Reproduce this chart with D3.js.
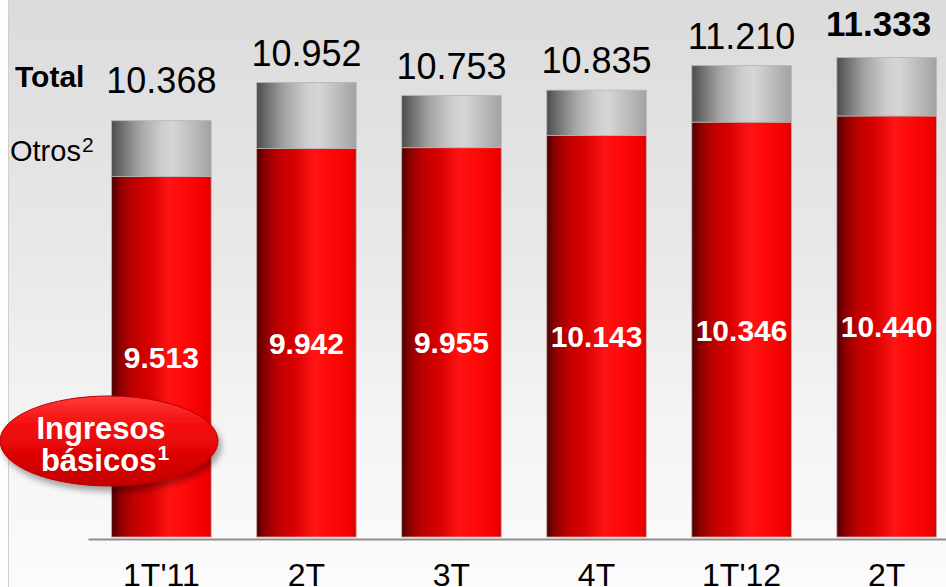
<!DOCTYPE html>
<html>
<head>
<meta charset="utf-8">
<script src="https://cdn.jsdelivr.net/npm/d3@7"></script>
<style>
  html, body { margin: 0; padding: 0; background: #ffffff; }
  svg { display: block; font-family: "Liberation Sans", Arial, sans-serif; }
</style>
</head>
<body>
<svg id="chart" width="946" height="587"></svg>
<script>
// Quarterly revenue: core income (red) plus other income (grey) stacked to the total
const quarters = ["1T'11", "2T", "3T", "4T", "1T'12", "2T "];
const coreIncome = [9513, 9942, 9955, 10143, 10346, 10440];
const totalIncome = [10368, 10952, 10753, 10835, 11210, 11333];
const otherIncome = totalIncome.map((t, i) => t - coreIncome[i]);
const yTicks = [4000, 12000];

const fmt = v => d3.format(",")(v).replace(/,/g, ".");

const W = 946, H = 587;
const svg = d3.select("#chart");
const defs = svg.append("defs");

// panel background: light grey fading to almost white
const bg = defs.append("linearGradient").attr("id", "bg")
  .attr("x1", 0).attr("y1", 0).attr("x2", 0).attr("y2", 1);
bg.append("stop").attr("offset", "0%").attr("stop-color", "#dbdbdb");
bg.append("stop").attr("offset", "45%").attr("stop-color", "#e9e9e9");
bg.append("stop").attr("offset", "75%").attr("stop-color", "#f5f5f5");
bg.append("stop").attr("offset", "100%").attr("stop-color", "#fbfbfb");

// cylinder-like shading for the red segments
const red = defs.append("linearGradient").attr("id", "redBar")
  .attr("x1", 0).attr("y1", 0).attr("x2", 1).attr("y2", 0);
[["0%", "#4a0000"], ["8%", "#8a0000"], ["22%", "#c00000"], ["38%", "#d80000"],
 ["58%", "#ff1414"], ["75%", "#ff0808"], ["95%", "#f00000"], ["100%", "#d80000"]]
  .forEach(([o, c]) => red.append("stop").attr("offset", o).attr("stop-color", c));

// same shading for the grey segments
const grey = defs.append("linearGradient").attr("id", "greyBar")
  .attr("x1", 0).attr("y1", 0).attr("x2", 1).attr("y2", 0);
[["0%", "#4c4c4c"], ["10%", "#6e6e6e"], ["28%", "#a4a4a4"], ["50%", "#cdcdcd"],
 ["62%", "#d6d6d6"], ["80%", "#bebebe"], ["100%", "#a2a2a2"]]
  .forEach(([o, c]) => grey.append("stop").attr("offset", o).attr("stop-color", c));

// legend bubble fill and shadow
const bub = defs.append("linearGradient").attr("id", "bubble")
  .attr("x1", 0).attr("y1", 0).attr("x2", 0).attr("y2", 1);
bub.append("stop").attr("offset", "0%").attr("stop-color", "#ff3a3a");
bub.append("stop").attr("offset", "35%").attr("stop-color", "#f40a0a");
bub.append("stop").attr("offset", "100%").attr("stop-color", "#c40000");
const sh = defs.append("filter").attr("id", "shadow")
  .attr("x", "-20%").attr("y", "-20%").attr("width", "150%").attr("height", "160%");
sh.append("feDropShadow").attr("dx", 3).attr("dy", 5).attr("stdDeviation", 3)
  .attr("flood-color", "#000").attr("flood-opacity", 0.35);

svg.append("rect").attr("x", 0).attr("y", 0).attr("width", W).attr("height", H).attr("fill", "#fdfdfd");
svg.append("rect").attr("x", 8).attr("y", 0).attr("width", W - 8).attr("height", H).attr("fill", "url(#bg)");
svg.append("line").attr("x1", 8.5).attr("x2", 8.5).attr("y1", 0).attr("y2", H)
  .attr("stroke", "#cfcfcf").attr("stroke-width", 1);

const x = d3.scaleBand().domain(quarters).range([88, 960])
  .paddingInner(0.314).paddingOuter(0.163);
const y = d3.scaleLinear().domain(yTicks).range([537, 14]);

const rows = quarters.map((q, i) => ({
  q, i, core: coreIncome[i], other: otherIncome[i], total: totalIncome[i]
}));

const bars = svg.append("g");
bars.selectAll("rect.core").data(rows).join("rect").attr("class", "core")
  .attr("x", d => x(d.q)).attr("width", x.bandwidth())
  .attr("y", d => y(d.core)).attr("height", d => y(yTicks[0]) - y(d.core))
  .attr("fill", "url(#redBar)").attr("stroke", "#c9a0a0").attr("stroke-width", 0.8);
bars.selectAll("rect.other").data(rows).join("rect").attr("class", "other")
  .attr("x", d => x(d.q)).attr("width", x.bandwidth())
  .attr("y", d => y(d.total)).attr("height", d => y(d.core) - y(d.total))
  .attr("fill", "url(#greyBar)").attr("stroke", "#b4b4b4").attr("stroke-width", 0.8);

// x axis: baseline with category labels, no ticks
const xAxis = svg.append("g").attr("transform", "translate(0,539)")
  .call(d3.axisBottom(x).tickSize(0).tickPadding(24));
xAxis.select(".domain").attr("stroke", "#8e8e8e").attr("stroke-width", 2.2);
xAxis.selectAll("text").attr("font-size", 32).attr("fill", "#000")
  .attr("font-family", "'Liberation Sans', Arial, sans-serif");

// core income values inside the red segments
svg.append("g").selectAll("text").data(rows).join("text")
  .attr("x", d => x(d.q) + x.bandwidth() / 2)
  .attr("y", d => (y(d.core) + y(yTicks[0])) / 2 + 11)
  .attr("text-anchor", "middle").attr("font-size", 30).attr("font-weight", "bold")
  .attr("fill", "#ffffff").text(d => fmt(d.core));

// totals above the bars; the latest quarter is emphasised
const last = rows.length - 1;
svg.append("g").selectAll("text").data(rows).join("text")
  .attr("x", d => x(d.q) + x.bandwidth() / 2 + (d.i === last ? -8 : 0))
  .attr("y", d => y(d.total) - (d.i === 0 ? 28 : d.i === last ? 22 : 17))
  .attr("text-anchor", "middle")
  .attr("font-size", d => d.i === last ? 35 : 36)
  .attr("font-weight", d => d.i === last ? "bold" : "normal")
  .attr("fill", "#000").text(d => fmt(d.total));

// row captions on the left
svg.append("text").attr("x", 15).attr("y", 87).attr("font-size", 30)
  .attr("font-weight", "bold").attr("fill", "#000").text("Total");
const otros = svg.append("text").attr("x", 10).attr("y", 161).attr("font-size", 29).attr("fill", "#000");
otros.append("tspan").text("Otros");
otros.append("tspan").attr("font-size", 21).attr("dy", -9).attr("dx", 1).text("2");

// legend bubble for the core income series
const bubble = svg.append("g");
bubble.append("ellipse").attr("cx", 109).attr("cy", 441).attr("rx", 109).attr("ry", 45)
  .attr("fill", "url(#bubble)").attr("stroke", "#b80000").attr("stroke-width", 1)
  .attr("filter", "url(#shadow)");
bubble.append("text").attr("x", 101).attr("y", 439).attr("text-anchor", "middle")
  .attr("font-size", 31).attr("font-weight", "bold").attr("fill", "#fff").text("Ingresos");
const basicos = bubble.append("text").attr("x", 105).attr("y", 471).attr("text-anchor", "middle")
  .attr("font-size", 31).attr("font-weight", "bold").attr("fill", "#fff");
basicos.append("tspan").text("básicos");
basicos.append("tspan").attr("font-size", 21).attr("dy", -11).attr("dx", 1).text("1");
</script>
</body>
</html>
